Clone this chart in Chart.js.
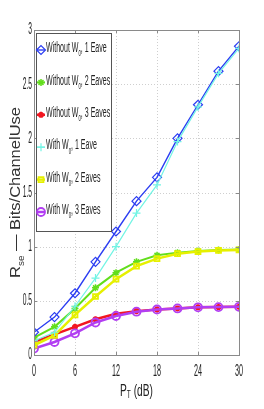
<!DOCTYPE html>
<html>
<head>
<meta charset="utf-8">
<script src="https://cdn.jsdelivr.net/npm/chart.js@4.4.1/dist/chart.umd.min.js"></script>
<style>
  html, body { margin: 0; padding: 0; background: #fff; }
  canvas { display: block; }
</style>
</head>
<body>
<canvas id="rateChart" width="264" height="409"></canvas>
<script>
// P_T (dB) sample points
const powerDb = [0, 3, 6, 9, 12, 15, 18, 21, 24, 27, 30];

// secrecy rate, bits/channel use
const withoutW0OneEave   = [0.21, 0.35, 0.57, 0.86, 1.14, 1.42, 1.64, 2.00, 2.31, 2.62, 2.85];
const withoutW0TwoEaves  = [0.16, 0.26, 0.43, 0.62, 0.76, 0.86, 0.92, 0.945, 0.96, 0.97, 0.975];
const withoutW0ThreeEaves= [0.12, 0.19, 0.26, 0.33, 0.38, 0.405, 0.42, 0.43, 0.44, 0.442, 0.445];
const withW0OneEave      = [0.13, 0.21, 0.45, 0.71, 1.00, 1.31, 1.57, 1.97, 2.29, 2.60, 2.83];
const withW0TwoEaves     = [0.09, 0.18, 0.37, 0.54, 0.70, 0.82, 0.89, 0.935, 0.955, 0.965, 0.97];
const withW0ThreeEaves   = [0.06, 0.12, 0.20, 0.30, 0.36, 0.40, 0.42, 0.43, 0.44, 0.442, 0.445];

const xTicks = [0, 6, 12, 18, 24, 30];
const yTicks = [0, 0.5, 1, 1.5, 2, 2.5, 3];
const yTickLabels = ['0', '0.5', '1', '1.5', '2', '2.5', '3'];

const seriesLabels = [
  ['Without W', '0', ', 1 Eave'],
  ['Without W', '0', ', 2 Eaves'],
  ['Without W', '0', ', 3 Eaves'],
  ['With W', '0', ', 1 Eave'],
  ['With W', '0', ', 2 Eaves'],
  ['With W', '0', ', 3 Eaves']
];

const pts = ys => powerDb.map((x, i) => ({ x: x, y: ys[i] }));

const styleOf = [
  { color: '#2b3df2', pointStyle: 'rectRot', radius: 4.5, width: 1.4, pw: 1.2, order: 1 },
  { color: '#62de1c', pointStyle: 'star',    radius: 3.5, width: 2,   pw: 1.5, order: 1 },
  { color: '#f21620', pointStyle: 'star',    radius: 3,   width: 2.5, pw: 2,   order: 1 },
  { color: '#72f4e4', pointStyle: 'cross',   radius: 4,   width: 1.2, pw: 1.2, order: 0 },
  { color: '#e6f000', pointStyle: 'rect',    radius: 3.5, width: 2.5, pw: 1.8, order: 0 },
  { color: '#b23ef2', pointStyle: 'circle',  radius: 4,   width: 2.5, pw: 1.8, order: 0 }
];

const seriesValues = [withoutW0OneEave, withoutW0TwoEaves, withoutW0ThreeEaves,
                      withW0OneEave, withW0TwoEaves, withW0ThreeEaves];

const datasets = seriesValues.map((v, i) => ({
  label: seriesLabels[i].join(''),
  data: pts(v),
  borderColor: styleOf[i].color,
  borderWidth: styleOf[i].width,
  pointStyle: styleOf[i].pointStyle,
  pointRadius: styleOf[i].radius,
  pointBorderWidth: styleOf[i].pw,
  pointBorderColor: styleOf[i].color,
  pointBackgroundColor: 'rgba(0,0,0,0)',
  tension: 0,
  order: styleOf[i].order
}));

// narrow text helper, parts = [normal, sub, normal]
function squeezed(ctx, parts, x, y, size, sx, align) {
  const big = size + 'px "Liberation Sans", Arial, sans-serif';
  const small = Math.round(size * 0.62) + 'px "Liberation Sans", Arial, sans-serif';
  let w = 0;
  const ws = parts.map((p, k) => {
    ctx.font = k % 2 ? small : big;
    const m = ctx.measureText(p).width * sx;
    w += m;
    return m;
  });
  let cx = align === 'right' ? x - w : align === 'center' ? x - w / 2 : x;
  parts.forEach((p, k) => {
    ctx.save();
    ctx.font = k % 2 ? small : big;
    ctx.translate(cx, y + (k % 2 ? size * 0.4 : 0));
    ctx.scale(sx, 1);
    ctx.fillText(p, 0, 0);
    ctx.restore();
    cx += ws[k];
  });
  return w;
}

// dotted grid under the data
const dottedGrid = {
  id: 'dottedGrid',
  beforeDatasetsDraw(chart) {
    const ctx = chart.ctx;
    const a = chart.chartArea;
    const xs = chart.scales.x, ys = chart.scales.y;
    ctx.save();
    ctx.strokeStyle = '#cfcfcf';
    ctx.lineWidth = 1;
    ctx.setLineDash([1, 2]);
    ctx.beginPath();
    xTicks.slice(1, -1).forEach(t => {
      const p = Math.round(xs.getPixelForValue(t)) + 0.5;
      ctx.moveTo(p, a.top); ctx.lineTo(p, a.bottom);
    });
    yTicks.slice(1, -1).forEach(t => {
      const p = Math.round(ys.getPixelForValue(t)) + 0.5;
      ctx.moveTo(a.left, p); ctx.lineTo(a.right, p);
    });
    ctx.stroke();
    ctx.restore();
  }
};

const decor = {
  id: 'decor',
  afterDraw(chart) {
    const ctx = chart.ctx;
    const a = chart.chartArea;
    const xs = chart.scales.x, ys = chart.scales.y;
    ctx.save();
    // box
    ctx.strokeStyle = '#8a8a8a';
    ctx.lineWidth = 1;
    ctx.strokeRect(a.left + 0.5, a.top + 0.5, a.right - a.left, a.bottom - a.top);
    // inward ticks
    ctx.beginPath();
    xTicks.forEach(t => {
      const p = Math.round(xs.getPixelForValue(t)) + 0.5;
      ctx.moveTo(p, a.bottom); ctx.lineTo(p, a.bottom - 3);
      ctx.moveTo(p, a.top); ctx.lineTo(p, a.top + 3);
    });
    yTicks.forEach(t => {
      const p = Math.round(ys.getPixelForValue(t)) + 0.5;
      ctx.moveTo(a.left, p); ctx.lineTo(a.left + 3, p);
      ctx.moveTo(a.right, p); ctx.lineTo(a.right - 3, p);
    });
    ctx.stroke();

    // tick labels
    ctx.fillStyle = '#222';
    ctx.textBaseline = 'middle';
    yTicks.forEach((t, i) => {
      squeezed(ctx, [yTickLabels[i]], a.left - 2, ys.getPixelForValue(t), 16, 0.42, 'right');
    });
    ctx.textBaseline = 'top';
    xTicks.forEach(t => {
      squeezed(ctx, [String(t)], xs.getPixelForValue(t), a.bottom + 9, 16, 0.45, 'center');
    });

    // x title
    ctx.textBaseline = 'top';
    squeezed(ctx, ['P', 'T', ' (dB)'], (a.left + a.right) / 2, a.bottom + 28, 17, 0.6, 'center');

    // y title
    ctx.save();
    ctx.translate(16, (a.top + a.bottom) / 2);
    ctx.rotate(-Math.PI / 2);
    ctx.textBaseline = 'middle';
    ctx.fillStyle = '#333';
    squeezed(ctx, ['R', 'se', ' \u2014 Bits/ChannelUse'], 0, 0, 15, 1.1, 'center');
    ctx.restore();

    // legend
    const lx = a.left + 2, ly = a.top + 3, lw = 75, lh = 198;
    ctx.fillStyle = '#fff';
    ctx.fillRect(lx, ly, lw, lh);
    ctx.strokeStyle = '#555';
    ctx.strokeRect(lx + 0.5, ly + 0.5, lw, lh);
    seriesLabels.forEach((lab, i) => {
      const cy = ly + 17 + i * 32.4;
      const st = styleOf[i];
      ctx.strokeStyle = st.color;
      ctx.lineWidth = st.width;
      ctx.beginPath();
      ctx.moveTo(lx + 1, cy); ctx.lineTo(lx + 9, cy);
      ctx.stroke();
      ctx.lineWidth = st.pw;
      ctx.fillStyle = 'rgba(0,0,0,0)';
      Chart.helpers.drawPoint(ctx, { pointStyle: st.pointStyle, radius: st.radius, rotation: 0, borderWidth: st.pw }, lx + 5, cy);
      ctx.fillStyle = '#222';
      ctx.textBaseline = 'middle';
      squeezed(ctx, lab, lx + 10, cy - 2, 15, 0.47, 'left');
    });
    ctx.restore();
  }
};

new Chart(document.getElementById('rateChart').getContext('2d'), {
  type: 'line',
  data: { datasets: datasets },
  options: {
    responsive: false,
    animation: false,
    devicePixelRatio: 1,
    layout: { padding: { left: 34, right: 25, top: 30, bottom: 54 } },
    scales: {
      x: {
        type: 'linear',
        min: 0, max: 30,
        afterFit: s => { s.height = 0; },
        afterBuildTicks: s => { s.ticks = xTicks.map(v => ({ value: v })); },
        ticks: { display: false },
        grid: { display: false },
        border: { display: false }
      },
      y: {
        min: 0, max: 3,
        afterFit: s => { s.width = 0; },
        afterBuildTicks: s => { s.ticks = yTicks.map(v => ({ value: v })); },
        ticks: { display: false },
        grid: { display: false },
        border: { display: false }
      }
    },
    plugins: {
      legend: { display: false },
      tooltip: { enabled: false }
    }
  },
  plugins: [dottedGrid, decor]
});
</script>
</body>
</html>
